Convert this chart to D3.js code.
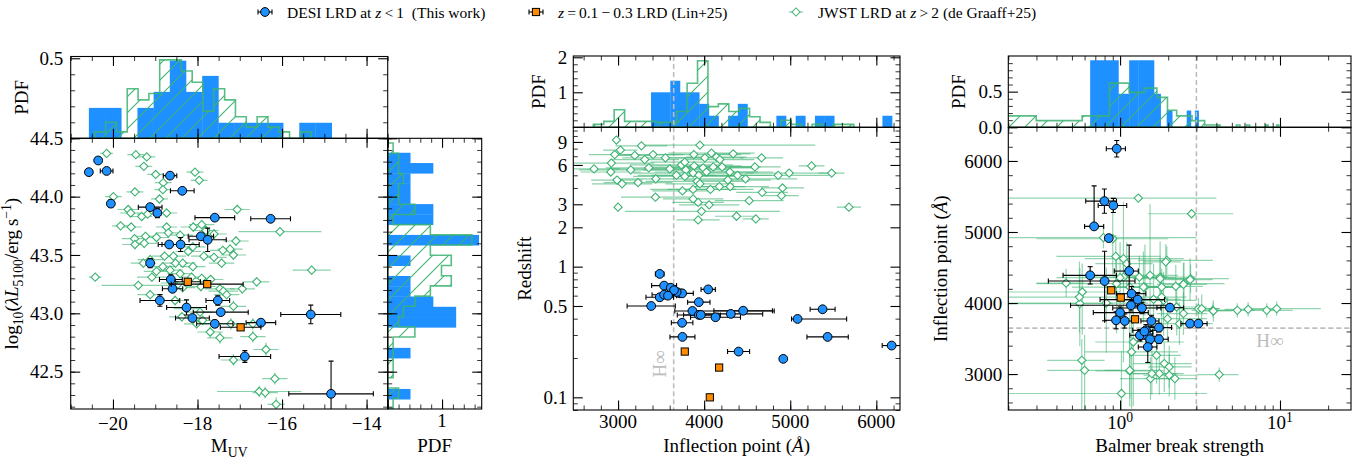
<!DOCTYPE html>
<html lang="en">
<head>
<meta charset="UTF-8">
<title>LRD comparison</title>
<script src="https://cdn.jsdelivr.net/npm/d3@7"></script>
<style>
  body { margin: 0; background: #fff; }
  svg { display: block; font-family: "Liberation Serif", "Times New Roman", serif; }
  .tl { font-size: 19px; fill: #000; }
  .al { font-size: 19px; fill: #000; }
  .lg { font-size: 15.5px; fill: #000; }
</style>
</head>
<body>
<svg id="chart" width="1367" height="463"></svg>
<script>
// ---------------- data ----------------
// left panel: [M_UV, log L5100, dM, dL]
const desiLeft = [
  [-20.57,44.21,0,0],[-20.35,44.31,0,0],[-20.15,44.22,0.15,0],[-20.05,43.94,0,0.03],
  [-18.65,44.18,0.16,0],[-18.36,44.05,0.28,0],[-19.12,43.91,0.28,0],[-18.95,43.86,0.08,0.04],
  [-17.59,43.82,0.47,0],[-16.27,43.81,0.47,0],[-17.92,43.66,0.3,0],[-17.76,43.63,0.44,0.1],
  [-18.67,43.59,0.26,0],[-18.40,43.59,0.44,0.06],[-19.12,43.43,0,0.04],[-18.63,43.29,0.27,0.04],
  [-18.59,43.21,0.24,0],[-18.89,43.11,0.47,0.05],[-17.52,43.11,0.28,0.04],[-18.26,43.05,0.47,0.065],
  [-17.45,43.01,0.65,0],[-18.12,42.96,0.4,0],[-17.59,42.91,0.43,0.03],[-16.50,42.92,0.35,0],
  [-15.32,42.99,0.71,0.08],[-16.88,42.63,0.61,0.05],[-14.84,42.31,1.0,0.28]
];
const linLeft = [[-18.23,43.27,0.3,0],[-17.77,43.25,0.85,0],[-16.98,42.88,0.48,0]];
const jwstLeft = [
  [-20.15,44.37,0.15,0.03],[-19.46,44.36,0.2,0.03],[-19.20,44.34,0.2,0.03],[-19.27,44.26,0.2,0.03],
  [-19.48,44.04,0.2,0.03],[-19.99,44.00,0.2,0.03],[-18.99,44.19,0.2,0.03],[-18.81,44.12,0.2,0.03],
  [-18.82,44.06,0.2,0.03],[-18.90,43.98,0.2,0.03],[-18.06,44.21,0.2,0.03],[-17.96,44.14,0.2,0.03],
  [-19.64,43.89,0.25,0.03],[-19.58,43.86,0.25,0.03],[-19.82,43.75,0.2,0.03],[-19.57,43.74,0.25,0.03],
  [-19.32,43.83,0.25,0.03],[-19.18,43.85,0.25,0.03],[-18.73,43.86,0.25,0.03],[-18.73,43.74,0.25,0.03],
  [-19.23,43.66,0.3,0.04],[-19.49,43.64,0.3,0.04],[-19.48,43.59,0.3,0.04],[-19.26,43.60,0.3,0.04],
  [-18.97,43.65,0.3,0.04],[-18.69,43.69,0.3,0.04],[-18.41,43.67,0.3,0.04],[-18.10,43.74,0.3,0.04],
  [-17.90,43.76,0.3,0.04],[-17.80,43.71,0.3,0.04],[-17.61,43.68,0.3,0.04],[-17.06,43.89,0.3,0.04],
  [-17.09,43.62,0.3,0.04],[-17.23,43.55,0.3,0.04],[-17.40,43.54,0.3,0.04],[-17.15,43.50,0.3,0.04],
  [-17.43,43.43,0.3,0.04],[-17.61,43.48,0.3,0.04],[-17.85,43.49,0.3,0.04],[-18.11,43.57,0.3,0.04],
  [-18.22,43.53,0.3,0.04],[-18.57,43.49,0.3,0.04],[-18.52,43.43,0.3,0.04],[-18.78,43.49,0.3,0.04],
  [-18.82,43.40,0.3,0.04],[-18.97,43.36,0.3,0.04],[-19.12,43.46,0.3,0.04],[-19.28,43.43,0.3,0.04],
  [-19.08,43.31,0.35,0.04],[-18.35,43.43,0.3,0.04],[-18.11,43.40,0.3,0.04],[-18.41,43.34,0.3,0.04],
  [-18.65,43.37,0.3,0.04],[-18.57,43.26,0.3,0.04],[-18.14,43.31,0.3,0.04],[-17.90,43.30,0.3,0.04],
  [-17.69,43.29,0.3,0.04],[-17.92,43.23,0.35,0.04],[-17.47,43.21,0.35,0.04],[-17.39,43.19,0.35,0.04],
  [-16.94,43.21,0.3,0.04],[-16.60,43.27,0.3,0.04],[-16.05,43.70,0.98,0.04],[-15.30,43.37,0.45,0.04],
  [-20.42,43.31,0.15,0.03],[-19.40,43.24,0.87,0.04],[-18.35,43.22,0.3,0.04],[-19.12,43.16,0.3,0.04],
  [-18.53,43.11,0.3,0.04],[-18.37,42.97,0.3,0.04],[-17.88,42.94,0.3,0.04],[-17.70,42.84,0.3,0.05],
  [-17.47,42.79,0.3,0.05],[-17.21,42.91,0.3,0.05],[-17.15,43.06,0.3,0.05],[-16.69,42.80,0.3,0.05],
  [-16.38,42.69,0.3,0.06],[-16.69,42.91,0.3,0.05],[-17.15,42.60,0.3,0.05],[-16.17,42.44,0.3,0.05],
  [-16.54,42.33,1.0,0.05],[-16.40,42.32,0.3,0.05],[-16.14,42.22,0.2,0.06],[-18.26,43.04,0.3,0.04],
  [-17.94,43.01,0.3,0.04],[-18.02,42.91,0.3,0.04],[-17.31,43.16,0.3,0.04]
];
// left histograms (PDF per bin)
const desiMuvHist = {start: -20.57, width: 0.383, pdf: [0.19,0.19,0,0.19,0.29,0.485,0.29,0.39,0.097,0.097,0.097,0.097,0,0.097,0.097]};
const jwstMuvHist = {start: -20.43, width: 0.256, pdf: [0.04,0.1,0.04,0.31,0.24,0.28,0.49,0.49,0.42,0.35,0.17,0.31,0.24,0.135,0.07,0.135,0.07,0.04,0,0.04]};
const desiLHist = {start: 42.264, width: 0.088, pdf: [0.42,0,0,0,0.42,0,0,1.26,1.26,0.84,0.42,0.42,0,0.42,0,1.68,0,0.84,0.84,0.42,0.42,0.42,0.84,0.42]};
const jwstLHist = {start: 42.185, width: 0.0875, pdf: [0.1,0.2,0,0.1,0.1,0.1,0.1,0.5,0.2,0.29,0.5,0.785,1.17,0.99,1.17,0.785,1.55,0.785,0.1,0.5,0.2,0.2,0.29,0.2,0.2,0.1]};

// middle panel: [inflection point, z, errLo, errHi]
const desiMid = [
  [3484,0.88,50,50],[3535,0.716,145,145],[3612,0.69,60,60],[3717,0.625,60,60],[3744,0.625,130,130],
  [3484,0.583,160,160],[3535,0.61,140,140],[4047,0.67,83,83],[3385,0.5,280,280],[3938,0.535,130,130],
  [3864,0.458,205,950],[3938,0.427,250,250],[3961,0.427,200,200],[4132,0.41,290,290],[4310,0.435,370,370],
  [4453,0.46,340,340],[3744,0.372,125,125],[3748,0.29,145,145],[4400,0.224,128,128],[4919,0.197,0,0],
  [5085,0.398,70,570],[5376,0.472,145,145],[5434,0.29,240,240],[6178,0.249,110,110],
  [3680,0.64,80,80],[3650,0.66,60,60],[3580,0.60,100,100]
];
const linMid = [[3775,0.224],[4174,0.169],[4066,0.1]];
const jwstMid = [
  [2981,9.3,0,0],[3271,8.4,300,300],[3950,8.5,680,1340],[3027,7.8,200,200],[2961,7.2,300,300],
  [3194,7.1,250,250],[3407,7.2,350,350],[3310,6.6,400,400],[3550,6.8,500,500],[3880,7.2,550,550],
  [4008,6.8,450,450],[4085,7.4,500,500],[4143,6.9,350,350],[4337,7.3,200,200],[4667,6.8,250,250],
  [2922,6.2,500,500],[2721,5.6,300,300],[2915,5.3,350,350],[3147,5.5,600,600],[3357,5.7,500,500],
  [3601,5.6,700,700],[3736,6.0,600,600],[3775,6.3,400,400],[3884,5.9,550,550],[3988,5.7,650,650],
  [4105,5.8,500,500],[4209,5.8,450,450],[4182,6.6,400,400],[3787,5.5,500,500],[3872,5.2,700,700],
  [3938,5.0,550,550],[4027,5.3,600,600],[3678,5.0,450,450],[3775,4.9,600,600],[4298,5.3,500,500],
  [4388,5.0,400,400],[4589,5.8,300,300],[4860,5.0,600,600],[4988,5.2,500,500],[5248,5.9,150,150],
  [5481,5.2,150,150],[2988,4.6,300,300],[3046,4.3,350,350],[3232,4.4,400,400],[3438,4.7,500,500],
  [3919,4.5,600,600],[4073,3.9,500,500],[4178,4.1,300,300],[4302,4.1,450,450],[4481,4.7,600,600],
  [3748,3.8,350,350],[3872,3.9,500,500],[3950,4.3,400,400],[4275,4.6,500,500],[4674,3.7,300,300],
  [4911,4.0,250,250],[4899,3.5,200,200],[4523,3.2,400,400],[3434,3.4,400,400],[3872,3.3,350,350],
  [3930,3.1,300,300],[4058,2.97,350,350],[3000,2.85,0,0],[3969,2.65,890,910],[3930,2.28,250,250],
  [4376,2.43,250,250],[4600,2.32,150,150],[5682,2.85,140,140]
];
const desiInfHist = {start: 3383, width: 112, pdf: [1,1,1.33,1,1,0.67,0.33,0,0.33,0.67,0,0,0,0.33,0,0.33,0,0.33,0.33,0,0,0,0,0,0.33]};
const jwstInfHist = {start: 2713, width: 121, pdf: [0.085,0.17,0.5,0.17,0.17,0.17,0.14,0.14,0.45,1.26,1.9,0.59,0.67,0.45,0.54,0.3,0.14,0,0.2,0.085,0,0.085,0,0.085,0.085]};

// right panel: [Balmer break, inflection point, B lo, B hi, inf errLo, inf errHi]
const desiRight = [
  [0.953,6172,0.82,1.08,117,117],[0.798,5435,0.61,0.95,170,170],[0.908,5374,0.73,1.1,100,100],
  [0.688,5079,0.6,0.79,30,570],[0.85,4914,0.85,0.85,0,0],[0.65,4390,0.44,0.95,122,122],
  [0.80,4310,0.356,1.24,560,420],[1.14,4450,0.92,1.3,365,365],[1.18,4132,0.95,1.45,100,100],
  [1.29,4048,0.75,1.9,100,100],[1.17,3968,0.49,2.05,80,80],[1.37,3930,0.9,1.8,80,80],
  [2.05,3935,1.7,2.5,50,50],[1.0,3865,0.68,1.5,80,80],[0.944,3757,0.8,1.05,120,120],
  [1.07,3747,0.95,1.2,100,100],[1.57,3747,1.35,1.75,80,80],[1.75,3654,1.5,2.1,60,60],
  [1.45,3616,1.2,1.7,80,80],[1.33,3546,1.15,1.6,80,80],[1.49,3532,1.3,1.7,80,80],
  [1.54,3490,1.35,1.7,60,60],[1.75,3490,1.5,2.0,60,60],[1.49,3381,1.3,1.7,218,218],
  [2.74,3710,2.4,3.1,30,30],[3.09,3710,2.8,3.5,30,30],[1.42,3600,1.3,1.6,50,50]
];
const linRight = [[0.88,4179],[1.01,4076],[1.24,3771]];
const jwstRight = [
  [1.30,5477,0.1,4.0,0,0],[2.8,5257,1.5,5.1,0,0],[0.787,4920,0.1,3.0,150,150],[0.9,4905,0.3,2.0,500,400],
  [0.94,4656,0.4,1.8,600,300],[1.05,4624,0.6,2.5,400,800],[1.1,4554,0.7,1.6,300,300],[1.96,4600,1.3,3.8,200,200],
  [1.93,4580,1.4,2.4,250,250],[0.46,4281,0.3,0.6,200,200],[0.58,4155,0.1,1.0,600,400],[1.32,4366,0.9,2.0,500,300],
  [1.54,4390,1.0,2.3,900,1000],[1.78,4366,1.2,3.0,300,500],[1.82,4225,1.3,2.5,400,200],[2.23,4235,1.5,3.3,300,300],
  [2.51,4273,1.8,4.5,300,300],[2.76,4343,2.0,4.8,200,200],[0.95,4273,0.3,1.6,700,400],[1.15,4225,0.5,2.2,1000,400],
  [1.43,4225,0.8,2.0,400,600],[1.05,4366,0.6,1.5,1200,300],[0.56,3992,0.1,0.9,600,500],[1.87,4038,1.0,3.0,500,400],
  [2.26,3944,1.5,3.5,400,300],[2.35,3710,1.6,3.8,300,300],[3.09,3921,2.3,4.2,150,150],[3.8,3897,2.8,5.5,100,100],
  [5.41,3897,4.0,7.0,100,100],[6.32,3911,4.5,9.0,100,100],[8.26,3897,6.0,12,100,100],[9.54,3921,6.5,18,100,100],
  [1.98,3780,1.0,3.5,300,300],[1.21,3451,0.7,2.5,900,700],[1.18,3311,0.6,2.3,800,500],[0.576,3194,0.35,0.8,700,300],
  [0.6,3053,0.35,1.0,600,500],[1.15,3044,0.7,1.9,500,500],[1.55,2937,1.0,2.2,300,300],[1.76,3007,1.2,2.5,300,300],
  [2.03,2983,1.4,3.0,300,300],[2.2,2937,1.5,3.0,300,300],[4.17,2993,3.0,5.5,100,100],[1.02,2726,0.1,3.5,400,600],
  [1.89,3148,1.2,2.8,400,300],[0.557,4084,0.2,1.0,500,500],[0.82,4000,0.1,1.5,700,500],[1.0,4357,0.4,2.2,600,500],
  [1.78,4343,1.2,2.6,300,300],[2.49,4263,1.7,3.5,300,300],[2.74,4329,1.9,3.8,300,300],[1.4,4225,0.8,2.2,500,500],
  [1.62,4052,1.0,2.4,500,500],[1.82,4084,1.3,2.6,400,400],[2.49,3851,1.7,3.5,300,300],[3.24,3921,2.5,4.2,200,200],
  [3.83,3888,3.0,5.0,150,150],[1.69,3264,1.2,2.4,400,300],[1.58,3007,1.1,2.3,300,400],[1.15,3053,0.8,1.7,400,300],
  [2.03,3100,1.5,2.8,300,300]
];
const desiBHist = {start: 0.65, width: 0.1633, pdf: [0.94,0.94,0.47,0.94,0.94,0.94,0.47,0,0.235,0,0,0,0.235,0,0.235]};
const jwstBHist = {start: 0.019, width: 0.28, pdf: [0.16,0.093,0.16,0.62,0.49,0.55,0.42,0.24,0.16,0.16,0.093,0.093,0.033,0.033,0.033,0,0,0,0,0.033,0,0,0.033,0,0,0,0,0,0,0.033,0,0,0,0,0.033]};

const hInf = 3646, bbCut = 3;
const xTicksL = [-20,-18,-16,-14], yTicksL = [42.5,43.0,43.5,44.0,44.5];
const xTicksM = [3000,4000,5000,6000], yTicksM = [0.1,0.5,1,2,3,6,9];
const xTicksR = [1,10], yTicksR = [3000,4000,5000,6000];

const blue = "#1E90FF", orange = "#FF8C00", green = "#3CB371", grey = "#BDBDBD";

// ---------------- layout ----------------
const svg = d3.select("#chart");
const defs = svg.append("defs");
defs.append("pattern").attr("id", "hatch").attr("patternUnits", "userSpaceOnUse")
  .attr("width", 16).attr("height", 16)
  .append("path").attr("d", "M0,16L16,0M-4,4L4,-4M12,20L20,12")
  .attr("stroke", green).attr("stroke-width", 1.1);

const L  = {x0: 70.7, x1: 387.7, y0: 138.3, y1: 409};
const LT = {x0: 70.7, x1: 387.7, y0: 56.5, y1: 138.3};
const LS = {x0: 387.7, x1: 481.7, y0: 138.3, y1: 409};
const M  = {x0: 573.3, x1: 900, y0: 127.3, y1: 410};
const MT = {x0: 573.3, x1: 900, y0: 56, y1: 127.3};
const R  = {x0: 1008.3, x1: 1351, y0: 127.3, y1: 410};
const RT = {x0: 1008.3, x1: 1351, y0: 56, y1: 127.3};

const xL = d3.scaleLinear([-21, -13.5], [L.x0, L.x1]);
const yL = d3.scaleLinear([42.18, 44.5], [L.y1, L.y0]);
const hLT = d3.scaleLinear([0, 0.511], [LT.y1, LT.y0]);
const hLS = d3.scaleLinear([0, 1.73], [LS.x0, LS.x1]);
const xM = d3.scaleLinear([2480, 6275], [M.x0, M.x1]);
const yM = d3.scaleLog([0.08, 11.65], [M.y1, M.y0]);
const hMT = d3.scaleLinear([0, 2.037], [MT.y1, MT.y0]);
const xR = d3.scaleLog([0.2, 27.8], [R.x0, R.x1]);
const yR = d3.scaleLinear([2494, 6474], [R.y1, R.y0]);
const hRT = d3.scaleLinear([0, 1.0], [RT.y1, RT.y0]);

let clipN = 0;
function panel(box) {
  const id = "clip" + (clipN++);
  defs.append("clipPath").attr("id", id).append("rect")
    .attr("x", box.x0).attr("y", box.y0).attr("width", box.x1 - box.x0).attr("height", box.y1 - box.y0);
  return svg.append("g").attr("clip-path", `url(#${id})`);
}
function frame(box) {
  svg.append("rect").attr("x", box.x0).attr("y", box.y0)
    .attr("width", box.x1 - box.x0).attr("height", box.y1 - box.y0)
    .attr("fill", "none").attr("stroke", "#000").attr("stroke-width", 1.1);
}
function inDom(scale, v) {
  const d = scale.domain();
  return v >= Math.min(d[0], d[1]) - 1e-9 && v <= Math.max(d[0], d[1]) + 1e-9;
}
// inward ticks on both sides of the box, drawn with d3 axes
function ticks(box, which, scale, vals, len) {
  vals = vals.filter(v => inDom(scale, v));
  const w = len > 6 ? 1.1 : 0.8;
  const mk = (axis, tx, ty) => svg.append("g").attr("transform", `translate(${tx},${ty})`)
    .call(axis.tickValues(vals).tickSize(-len).tickFormat(""))
    .call(g => { g.select(".domain").remove(); g.selectAll("line").attr("stroke-width", w); });
  if (which === "x") {
    mk(d3.axisBottom(scale), 0, box.y1);
    mk(d3.axisTop(scale), 0, box.y0);
  } else {
    mk(d3.axisLeft(scale), box.x0, 0);
    mk(d3.axisRight(scale), box.x1, 0);
  }
}
function rich(t, parts, fs) {
  let cur = 0;
  parts.forEach(([txt, k]) => {
    const shift = k === "sub" ? fs * 0.25 : k === "sup" ? -fs * 0.38 : 0;
    const ts = t.append("tspan").attr("dy", shift - cur).text(txt);
    cur = shift;
    if (k === "sub" || k === "sup") ts.attr("font-size", fs * 0.72);
    if (k === "i") ts.attr("font-style", "italic");
  });
  return t;
}
function xLabels(box, scale, vals, fmt, dy) {
  vals.forEach(v => {
    const t = svg.append("text").attr("class", "tl").attr("x", scale(v)).attr("y", box.y1 + dy)
      .attr("text-anchor", "middle");
    rich(t, fmt(v), 19);
  });
}
function yLabels(box, scale, vals, fmt, pad) {
  vals.forEach(v => {
    svg.append("text").attr("class", "tl").attr("x", box.x0 - pad).attr("y", scale(v))
      .attr("dy", "0.35em").attr("text-anchor", "end").text(fmt(v));
  });
}
function rotLabel(cx, cy, parts) {
  const t = svg.append("text").attr("class", "al").attr("text-anchor", "middle")
    .attr("transform", `translate(${cx},${cy}) rotate(-90)`).attr("dy", "0.35em");
  rich(t, parts, 19);
}
function xTitle(cx, y, parts) {
  const t = svg.append("text").attr("class", "al").attr("x", cx).attr("y", y).attr("text-anchor", "middle");
  rich(t, parts, 19);
}
const minus = v => String(v).replace("-", "\u2212");

// histogram helpers
function bars(g, h, xs, ys, horizontal) {
  h.pdf.forEach((p, i) => {
    if (p <= 0) return;
    const a = h.start + i * h.width, b = a + h.width;
    if (!horizontal) {
      const x0 = xs(a), x1 = xs(b);
      g.append("rect").attr("x", x0).attr("y", ys(p)).attr("width", x1 - x0 + 0.3)
        .attr("height", ys(0) - ys(p)).attr("fill", blue);
    } else {
      const y0 = ys(b), y1 = ys(a);
      g.append("rect").attr("x", xs(0)).attr("y", y0).attr("width", xs(p) - xs(0))
        .attr("height", y1 - y0 + 0.3).attr("fill", blue);
    }
  });
}
function steps(g, h, xs, ys, horizontal) {
  const pts = [[h.start, 0]];
  h.pdf.forEach((p, i) => { pts.push([h.start + i * h.width, p]); pts.push([h.start + (i + 1) * h.width, p]); });
  pts.push([h.start + h.pdf.length * h.width, 0]);
  const line = horizontal
    ? d3.line().x(d => xs(d[1])).y(d => ys(d[0]))
    : d3.line().x(d => xs(d[0])).y(d => ys(d[1]));
  g.append("path").attr("d", line(pts) + "Z").attr("fill", "url(#hatch)")
    .attr("stroke", green).attr("stroke-width", 1.6).attr("stroke-opacity", 0.85);
}

// markers
function diamonds(g, pts, xs, ys) {
  const sym = d3.symbol(d3.symbolSquare, 34);
  g.selectAll(null).data(pts).join("path")
    .attr("d", sym).attr("transform", d => `translate(${xs(d[0])},${ys(d[1])}) rotate(45)`)
    .attr("fill", "#fff").attr("stroke", green).attr("stroke-width", 1.1);
}
function circles(g, pts, xs, ys) {
  g.selectAll(null).data(pts).join("circle")
    .attr("cx", d => xs(d[0])).attr("cy", d => ys(d[1])).attr("r", 4.4)
    .attr("fill", blue).attr("stroke", "#000").attr("stroke-width", 1);
}
function squares(g, pts, xs, ys) {
  g.selectAll(null).data(pts).join("rect")
    .attr("x", d => xs(d[0]) - 3.6).attr("y", d => ys(d[1]) - 3.6).attr("width", 7.2).attr("height", 7.2)
    .attr("fill", orange).attr("stroke", "#000").attr("stroke-width", 1);
}
// error bar: [x, y, xlo, xhi, ylo, yhi] absolute bounds
function errbars(g, rows, xs, ys, color, width, cap, op) {
  rows.forEach(r => {
    const [x, y, xa, xb, ya, yb] = r;
    const px = xs(x), py = ys(y);
    if (xa !== xb) {
      g.append("line").attr("x1", xs(xa)).attr("x2", xs(xb)).attr("y1", py).attr("y2", py)
        .attr("stroke", color).attr("stroke-width", width).attr("stroke-opacity", op);
      if (cap) [xa, xb].forEach(v => g.append("line").attr("x1", xs(v)).attr("x2", xs(v))
        .attr("y1", py - cap).attr("y2", py + cap).attr("stroke", color).attr("stroke-width", width));
    }
    if (ya !== yb) {
      g.append("line").attr("x1", px).attr("x2", px).attr("y1", ys(ya)).attr("y2", ys(yb))
        .attr("stroke", color).attr("stroke-width", width).attr("stroke-opacity", op);
      if (cap) [ya, yb].forEach(v => g.append("line").attr("y1", ys(v)).attr("y2", ys(v))
        .attr("x1", px - cap).attr("x2", px + cap).attr("stroke", color).attr("stroke-width", width));
    }
  });
}
const symErr = rows => rows.map(([x, y, dx, dy]) => [x, y, x - dx, x + dx, y - dy, y + dy]);
const asymX = rows => rows.map(([x, y, lo, hi]) => [x, y, x - lo, x + hi, y, y]);
const rightErr = rows => rows.map(([x, y, a, b, lo, hi]) => [x, y, a, b, y - lo, y + hi]);

// ---------------- left panel ----------------
{
  const gT = panel(LT);
  bars(gT, desiMuvHist, xL, hLT, false);
  steps(gT, jwstMuvHist, xL, hLT, false);
  const gS = panel(LS);
  bars(gS, desiLHist, hLS, yL, true);
  steps(gS, jwstLHist, hLS, yL, true);

  const g = panel(L);
  errbars(g, symErr(jwstLeft), xL, yL, green, 1.2, 0, 0.6);
  diamonds(g, jwstLeft, xL, yL);
  errbars(g, symErr(desiLeft), xL, yL, "#000", 1.1, 2.5, 1);
  circles(g, desiLeft, xL, yL);
  errbars(g, symErr(linLeft), xL, yL, "#000", 1.1, 2.5, 1);
  squares(g, linLeft, xL, yL);

  ticks(L, "x", xL, xTicksL, 9.5);
  ticks(L, "x", xL, d3.range(-21, -13.4, 0.5), 4.5);
  ticks(L, "y", yL, yTicksL, 9.5);
  ticks(L, "y", yL, d3.range(42.2, 44.55, 0.1), 4.5);
  ticks(LT, "x", xL, xTicksL, 9.5);
  ticks(LT, "x", xL, d3.range(-21, -13.4, 0.5), 4.5);
  ticks(LT, "y", hLT, [0.5], 9.5);
  ticks(LT, "y", hLT, d3.range(0.1, 0.5, 0.1), 4.5);
  ticks(LS, "x", hLS, [0, 1], 9.5);
  ticks(LS, "x", hLS, d3.range(0.2, 1.75, 0.2), 4.5);
  ticks(LS, "y", yL, yTicksL, 9.5);
  ticks(LS, "y", yL, d3.range(42.2, 44.55, 0.1), 4.5);
  frame(L); frame(LT); frame(LS);

  xLabels(L, xL, xTicksL, v => [[minus(v), "n"]], 21);
  yLabels(L, yL, yTicksL, v => v.toFixed(1), 7.5);
  yLabels(LT, hLT, [0.5], v => v.toFixed(1), 7.5);
  xLabels(LS, hLS, [1], v => [[String(v), "n"]], 18);

  xTitle((L.x0 + L.x1) / 2, 452, [["M", "n"], ["UV", "sub"]]);
  xTitle((LS.x0 + LS.x1) / 2, 452, [["PDF", "n"]]);
  rotLabel(18, (L.y0 + L.y1) / 2, [["log", "n"], ["10", "sub"], ["(", "n"], ["\u03BBL", "i"], ["5100", "sub"],
    ["/erg\u2009s", "n"], ["\u22121", "sup"], [")", "n"]]);
  rotLabel(28, (LT.y0 + LT.y1) / 2, [["PDF", "n"]]);
}

// ---------------- middle panel ----------------
{
  const gT = panel(MT);
  bars(gT, desiInfHist, xM, hMT, false);
  steps(gT, jwstInfHist, xM, hMT, false);
  gT.append("line").attr("x1", xM(hInf)).attr("x2", xM(hInf)).attr("y1", MT.y0).attr("y2", MT.y1)
    .attr("stroke", grey).attr("stroke-width", 1.6).attr("stroke-dasharray", "5,3");

  const g = panel(M);
  g.append("line").attr("x1", xM(hInf)).attr("x2", xM(hInf)).attr("y1", M.y0).attr("y2", M.y1)
    .attr("stroke", grey).attr("stroke-width", 1.6).attr("stroke-dasharray", "5,3");
  errbars(g, asymX(jwstMid), xM, yM, green, 1.2, 0, 0.6);
  diamonds(g, jwstMid, xM, yM);
  errbars(g, asymX(desiMid), xM, yM, "#000", 1.1, 2.5, 1);
  circles(g, desiMid, xM, yM);
  squares(g, linMid, xM, yM);
  g.append("text").attr("transform", `translate(${xM(hInf) - 8},${yM(0.18)}) rotate(-90)`)
    .attr("text-anchor", "middle").attr("font-size", 19).attr("fill", grey).text("H\u221E");

  const minorX = d3.range(2600, 6300, 200);
  const minorY = [0.08, 0.09, 0.2, 0.3, 0.4, 0.6, 0.7, 0.8, 0.9, 4, 5, 7, 8, 10, 11];
  ticks(M, "x", xM, xTicksM, 9.5);
  ticks(M, "x", xM, minorX, 4.5);
  ticks(M, "y", yM, yTicksM, 9.5);
  ticks(M, "y", yM, minorY, 4.5);
  ticks(MT, "x", xM, xTicksM, 9.5);
  ticks(MT, "x", xM, minorX, 4.5);
  ticks(MT, "y", hMT, [1, 2], 9.5);
  ticks(MT, "y", hMT, [0.2, 0.4, 0.6, 0.8, 1.2, 1.4, 1.6, 1.8], 4.5);
  frame(M); frame(MT);

  xLabels(M, xM, xTicksM, v => [[String(v), "n"]], 18);
  yLabels(M, yM, yTicksM, v => String(v), 6);
  yLabels(MT, hMT, [1, 2], v => String(v), 6);
  xTitle((M.x0 + M.x1) / 2, 452, [["Inflection point (", "n"], ["\u00C5", "i"], [")", "n"]]);
  rotLabel(531, (M.y0 + M.y1) / 2, [["Redshift", "n"]]);
  rotLabel(545, (MT.y0 + MT.y1) / 2, [["PDF", "n"]]);
}

// ---------------- right panel ----------------
{
  const gT = panel(RT);
  bars(gT, desiBHist, xR, hRT, false);
  steps(gT, jwstBHist, xR, hRT, false);
  gT.append("line").attr("x1", xR(bbCut)).attr("x2", xR(bbCut)).attr("y1", RT.y0).attr("y2", RT.y1)
    .attr("stroke", grey).attr("stroke-width", 1.6).attr("stroke-dasharray", "5,3");

  const g = panel(R);
  g.append("line").attr("x1", xR(bbCut)).attr("x2", xR(bbCut)).attr("y1", R.y0).attr("y2", R.y1)
    .attr("stroke", grey).attr("stroke-width", 1.6).attr("stroke-dasharray", "5,3");
  g.append("line").attr("x1", R.x0).attr("x2", R.x1).attr("y1", yR(hInf)).attr("y2", yR(hInf))
    .attr("stroke", grey).attr("stroke-width", 1.6).attr("stroke-dasharray", "5,3");
  errbars(g, rightErr(jwstRight), xR, yR, green, 1.2, 0, 0.55);
  diamonds(g, jwstRight, xR, yR);
  errbars(g, rightErr(desiRight), xR, yR, "#000", 1.1, 2.5, 1);
  circles(g, desiRight, xR, yR);
  squares(g, linRight, xR, yR);
  g.append("text").attr("x", xR(bbCut) + 60).attr("y", yR(hInf) + 19).attr("font-size", 19)
    .attr("fill", grey).text("H\u221E");

  const minorX = [0.2,0.3,0.4,0.5,0.6,0.7,0.8,0.9,2,3,4,5,6,7,8,9,20];
  ticks(R, "x", xR, xTicksR, 9.5);
  ticks(R, "x", xR, minorX, 4.5);
  ticks(R, "y", yR, yTicksR, 9.5);
  ticks(R, "y", yR, d3.range(2600, 6500, 200), 4.5);
  ticks(RT, "x", xR, xTicksR, 9.5);
  ticks(RT, "x", xR, minorX, 4.5);
  ticks(RT, "y", hRT, [0, 0.5], 9.5);
  ticks(RT, "y", hRT, [0.1, 0.2, 0.3, 0.4, 0.6, 0.7, 0.8, 0.9], 4.5);
  frame(R); frame(RT);

  xLabels(R, xR, xTicksR, v => [["10", "n"], [String(Math.round(Math.log10(v))), "sup"]], 19);
  yLabels(R, yR, yTicksR, v => String(v), 6);
  yLabels(RT, hRT, [0, 0.5], v => v.toFixed(1), 6);
  xTitle((R.x0 + R.x1) / 2, 452, [["Balmer break strength", "n"]]);
  rotLabel(947, (R.y0 + R.y1) / 2, [["Inflection point (", "n"], ["\u00C5", "i"], [")", "n"]]);
  rotLabel(965, (RT.y0 + RT.y1) / 2, [["PDF", "n"]]);
}

// ---------------- legend ----------------
{
  const ly = 12;
  const items = [
    {x: 265, kind: "desi", parts: [["DESI LRD at ", "n"], ["z", "i"], ["\u2009<\u20091  (This work)", "n"]]},
    {x: 536, kind: "lin", parts: [["z", "i"], ["\u2009=\u20090.1\u2009\u2212\u20090.3 LRD (Lin+25)", "n"]]},
    {x: 796, kind: "jwst", parts: [["JWST LRD at ", "n"], ["z", "i"], ["\u2009>\u20092 (de Graaff+25)", "n"]]}
  ];
  items.forEach(it => {
    const col = it.kind === "jwst" ? green : "#000";
    svg.append("line").attr("x1", it.x - 7).attr("x2", it.x + 7).attr("y1", ly).attr("y2", ly)
      .attr("stroke", col).attr("stroke-width", 1.1).attr("stroke-opacity", it.kind === "jwst" ? 0.7 : 1);
    if (it.kind !== "jwst") [it.x - 7, it.x + 7].forEach(x => svg.append("line")
      .attr("x1", x).attr("x2", x).attr("y1", ly - 2.5).attr("y2", ly + 2.5).attr("stroke", "#000").attr("stroke-width", 1.1));
    if (it.kind === "desi") svg.append("circle").attr("cx", it.x).attr("cy", ly).attr("r", 4.4)
      .attr("fill", blue).attr("stroke", "#000");
    if (it.kind === "lin") svg.append("rect").attr("x", it.x - 3.6).attr("y", ly - 3.6).attr("width", 7.2)
      .attr("height", 7.2).attr("fill", orange).attr("stroke", "#000");
    if (it.kind === "jwst") svg.append("path").attr("d", d3.symbol(d3.symbolSquare, 34)())
      .attr("transform", `translate(${it.x},${ly}) rotate(45)`).attr("fill", "#fff").attr("stroke", green);
    const t = svg.append("text").attr("class", "lg").attr("x", it.x + 22).attr("y", ly + 5.5)
      .attr("xml:space", "preserve").style("white-space", "pre");
    rich(t, it.parts, 15.5);
  });
}
</script>
</body>
</html>
